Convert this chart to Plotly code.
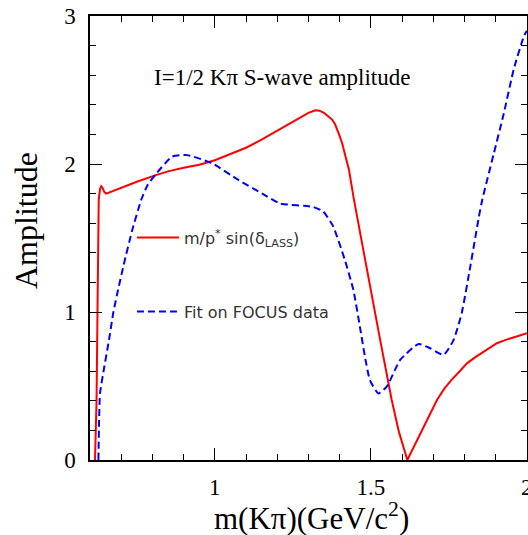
import plotly.graph_objects as go

# I=1/2 K-pi S-wave: LASS-based amplitude m/p* sin(delta) vs. mass
lass_mass = [0.616, 0.621, 0.624, 0.626, 0.628, 0.632, 0.636, 0.640, 0.646, 0.652,
             0.700, 0.750, 0.811, 0.850, 0.900, 0.950, 1.000, 1.050, 1.100, 1.150,
             1.200, 1.250, 1.280, 1.300, 1.322, 1.335, 1.350, 1.365, 1.376, 1.385,
             1.393, 1.400, 1.408, 1.420, 1.430, 1.446, 1.470, 1.500, 1.530, 1.567,
             1.590, 1.617, 1.640, 1.665, 1.690, 1.712, 1.735, 1.760, 1.785, 1.808,
             1.835, 1.860, 1.880, 1.904, 1.930, 1.950, 1.975, 2.000]
lass_amp = [0.00, 0.40, 1.00, 1.50, 1.76, 1.83, 1.85, 1.84, 1.81, 1.80,
            1.84, 1.88, 1.925, 1.95, 1.975, 1.995, 2.025, 2.065, 2.11, 2.165,
            2.225, 2.285, 2.32, 2.345, 2.363, 2.36, 2.345, 2.32, 2.30, 2.27,
            2.23, 2.19, 2.14, 2.05, 1.96, 1.757, 1.48, 1.15, 0.81, 0.405,
            0.19, 0.00, 0.10, 0.20, 0.31, 0.405, 0.48, 0.545, 0.60, 0.653,
            0.695, 0.73, 0.76, 0.789, 0.81, 0.825, 0.84, 0.856]

# Amplitude from the fit to FOCUS data
focus_mass = [0.627, 0.629, 0.632, 0.645, 0.660, 0.675, 0.690, 0.707, 0.735, 0.764,
              0.785, 0.809, 0.863, 0.911, 0.991, 1.077, 1.152, 1.208, 1.315, 1.347,
              1.379, 1.417, 1.444, 1.465, 1.481, 1.497, 1.524, 1.551, 1.594, 1.653,
              1.690, 1.733, 1.765, 1.791, 1.819, 1.846, 1.857, 1.894, 1.926, 1.958,
              1.990, 2.000]
focus_amp = [0.00, 0.25, 0.45, 0.62, 0.80, 1.00, 1.15, 1.31, 1.55, 1.757,
             1.86, 1.926, 2.05, 2.06, 2.005, 1.89, 1.80, 1.734, 1.71, 1.68,
             1.58, 1.35, 1.15, 0.90, 0.70, 0.54, 0.45, 0.495, 0.676, 0.784,
             0.755, 0.71, 0.81, 0.99, 1.31, 1.64, 1.757, 2.07, 2.34, 2.64,
             2.86, 2.90]

x_ticks = [1, 1.5, 2]
x_labels = ["1", "1.5", "2"]
y_ticks = [0, 1, 2, 3]
y_labels = ["0", "1", "2", "3"]

SERIF = "Liberation Serif, Times New Roman, serif"
SANS = "DejaVu Sans, sans-serif"

fig = go.Figure()
fig.add_trace(go.Scatter(
    x=lass_mass, y=lass_amp, mode="lines",
    line=dict(color="#ff0000", width=2),
    name="m/p<sup>*</sup> sin(δ<sub>LASS</sub>)",
    legend="legend",
))
fig.add_trace(go.Scatter(
    x=focus_mass, y=focus_amp, mode="lines",
    line=dict(color="#0000ff", width=2, dash="7px,4px", shape="spline", smoothing=0.5),
    name="Fit on FOCUS data",
    legend="legend2",
))

axis_common = dict(
    showgrid=False, zeroline=False, automargin=False,
    showline=True, linecolor="black", linewidth=1.5, mirror="allticks",
    ticks="inside", tickcolor="black", tickwidth=1.2,
    tickfont=dict(family=SERIF, size=23, color="black"),
)

fig.update_xaxes(
    range=[0.6, 2.0005], tickvals=x_ticks, ticktext=x_labels, ticklen=12,
    ticklabelstandoff=6, ticklabeloverflow="allow",
    minor=dict(dtick=0.1, tick0=0, ticks="inside", ticklen=6, tickcolor="black", tickwidth=1.2),
    **axis_common,
)
fig.update_yaxes(
    range=[0, 3], tickvals=y_ticks, ticktext=y_labels, ticklen=12,
    ticklabelstandoff=8,
    minor=dict(dtick=0.2, tick0=0, ticks="inside", ticklen=6, tickcolor="black", tickwidth=1.2),
    **axis_common,
)

legend_common = dict(
    xanchor="left", yanchor="middle", bgcolor="rgba(0,0,0,0)", borderwidth=0,
    font=dict(family=SANS, size=16, color="#333333"), itemwidth=42,
)

fig.update_layout(
    width=528, height=535,
    margin=dict(l=90, r=1, t=16, b=75),
    plot_bgcolor="white", paper_bgcolor="white",
    showlegend=True,
    legend=dict(x=0.096, y=0.501, **legend_common),
    legend2=dict(x=0.096, y=0.334, **legend_common),
    annotations=[
        dict(text="I=1/2 Kπ S-wave amplitude", xref="paper", yref="paper",
             x=0.141, y=0.8626, xanchor="left", yanchor="middle", showarrow=False,
             font=dict(family=SERIF, size=23, color="black")),
        dict(text="m(Kπ)(GeV/c<sup>2</sup>)", xref="paper", yref="paper",
             x=0.508, y=-0.128, xanchor="center", yanchor="middle", showarrow=False,
             font=dict(family=SERIF, size=31, color="black")),
        dict(text="Amplitude", xref="paper", yref="paper", textangle=-90,
             x=-0.1465, y=0.5405, xanchor="center", yanchor="middle", showarrow=False,
             font=dict(family=SERIF, size=32, color="black")),
    ],
)

fig.write_html("out.html")
